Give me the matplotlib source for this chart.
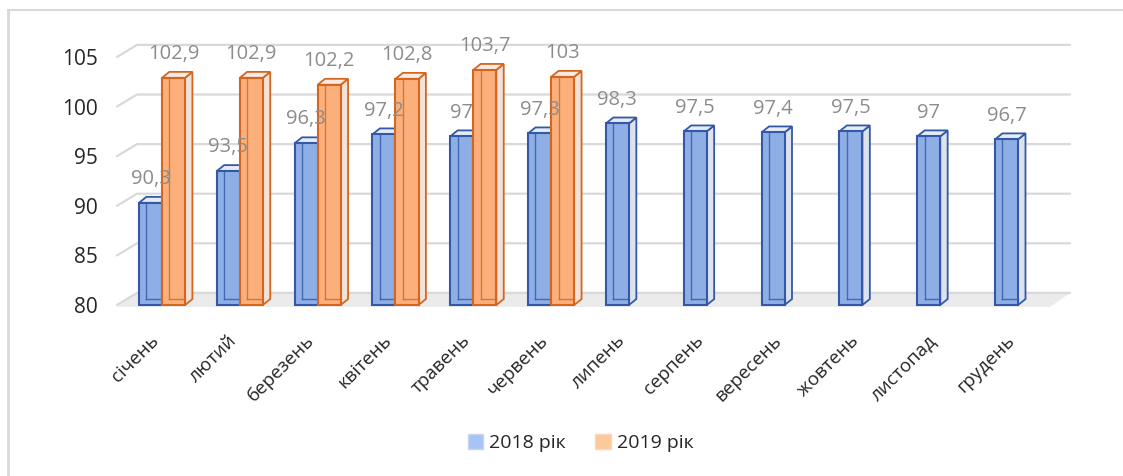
import numpy as np
import matplotlib.pyplot as plt
from matplotlib.patches import Polygon, Patch
from matplotlib.lines import Line2D

plt.rcParams['font.family'] = ['Open Sans', 'DejaVu Sans']

# Data
months = ["січень", "лютий", "березень", "квітень", "травень", "червень",
          "липень", "серпень", "вересень", "жовтень", "листопад", "грудень"]
y2018 = [90.3, 93.5, 96.3, 97.2, 97.0, 97.3, 98.3, 97.5, 97.4, 97.5, 97.0, 96.7]
y2019 = [102.9, 102.9, 102.2, 102.8, 103.7, 103.0]
labels2018 = ["90,3", "93,5", "96,3", "97,2", "97", "97,3", "98,3", "97,5", "97,4", "97,5", "97", "96,7"]
labels2019 = ["102,9", "102,9", "102,2", "102,8", "103,7", "103"]
yticks = [80, 85, 90, 95, 100, 105]

# Styles
blue_face, blue_edge, blue_side, blue_top = "#8eaee6", "#3358a8", "#dde2ec", "#e6ebf5"
orng_face, orng_edge, orng_side, orng_top = "#fbb07c", "#d4661f", "#f2e2da", "#f7ebe4"
grid_col = "#d9d9d9"
lab_col = "#8c8c8c"

W = 1123 / 100
H = 476 / 100
fig = plt.figure(figsize=(W, H), dpi=100)
ax = fig.add_axes([117 / 1123, 1 - 305 / 476, (1050 - 117) / 1123, 248 / 476])
xl, xr = -0.578, 11.41
ax.set_xlim(xl, xr)
ax.set_ylim(80, 105)

bw = 0.296          # bar width (x units)
bdx, bdy = 0.095, 0.6   # bar depth offset
wdx, wdy = 0.257, 1.22  # wall depth offset

# floor
floor = Polygon([(xl, 79.8), (xr, 79.8), (xr + wdx, 80 + wdy), (xl + wdx, 80 + wdy)],
                closed=True, facecolor="#ebebeb", edgecolor="none", zorder=0, clip_on=False)
ax.add_patch(floor)

# gridlines on back wall / left wall
for v in yticks:
    ax.plot([xl, xl + wdx, xr + wdx], [v, v + wdy, v + wdy], color=grid_col,
            lw=1.6, zorder=0.5, clip_on=False, solid_capstyle='round')


def box(x0, h, face, edge, side, top, z):
    x1 = x0 + bw
    ax.add_patch(Polygon([(x1, 80), (x1 + bdx, 80 + bdy), (x1 + bdx, h + bdy), (x1, h)],
                         closed=True, facecolor=side, edgecolor=edge, lw=1.3, zorder=z, clip_on=False))
    ax.add_patch(Polygon([(x0, h), (x1, h), (x1 + bdx, h + bdy), (x0 + bdx, h + bdy)],
                         closed=True, facecolor=top, edgecolor=edge, lw=1.3, zorder=z, clip_on=False))
    ax.bar(x0, h - 80, bottom=80, width=bw, align='edge', color=face, edgecolor=edge,
           lw=1.5, zorder=z + 0.1, clip_on=False)
    # hidden edges seen through the face
    ax.plot([x0 + bdx, x0 + bdx], [80 + bdy, h], color=edge, lw=1.0, alpha=0.8, zorder=z + 0.2)
    ax.plot([x0 + bdx, x1], [80 + bdy, 80 + bdy], color=edge, lw=1.0, alpha=0.8, zorder=z + 0.2)


for i, v in enumerate(y2018):
    box(i - bw, v, blue_face, blue_edge, blue_side, blue_top, 2 + i)
    ax.text(i - bw / 2, v + 2.4, labels2018[i], ha='center', va='center',
            fontsize=14.5, color=lab_col, zorder=50)
for i, v in enumerate(y2019):
    box(i, v, orng_face, orng_edge, orng_side, orng_top, 2.5 + i)
    ax.text(i + bw / 2, v + 2.4, labels2019[i], ha='center', va='center',
            fontsize=14.5, color=lab_col, zorder=50)

for s in ax.spines.values():
    s.set_visible(False)
ax.set_yticks(yticks)
ax.set_yticklabels([str(t) for t in yticks], fontsize=15, color="#262626")
ax.set_xticks(range(len(months)))
ax.set_xticklabels(months, rotation=45, ha='right', fontsize=13.5, color="#262626")
ax.tick_params(axis='both', length=0)
ax.tick_params(axis='x', pad=19)
ax.tick_params(axis='y', pad=14)

handles = [Patch(facecolor="#a8c4f4", edgecolor="#c5d6f5"),
           Patch(facecolor="#fcc99a", edgecolor="#fbd9b8")]
fig.legend(handles, ["2018 рік", "2019 рік"], loc='center', bbox_to_anchor=(0.517, 1 - 443 / 476),
           ncol=2, frameon=False, fontsize=14, handlelength=0.8, handleheight=0.8,
           handletextpad=0.3, columnspacing=1.5, labelcolor="#262626")

# outer frame
fig.add_artist(Line2D([7.5 / 1123, 1], [1 - 10 / 476, 1 - 10 / 476], color=grid_col, lw=1.5))
fig.add_artist(Line2D([7.5 / 1123, 7.5 / 1123], [0, 1 - 10 / 476], color=grid_col, lw=2))

fig.savefig("out.png", dpi=100)
